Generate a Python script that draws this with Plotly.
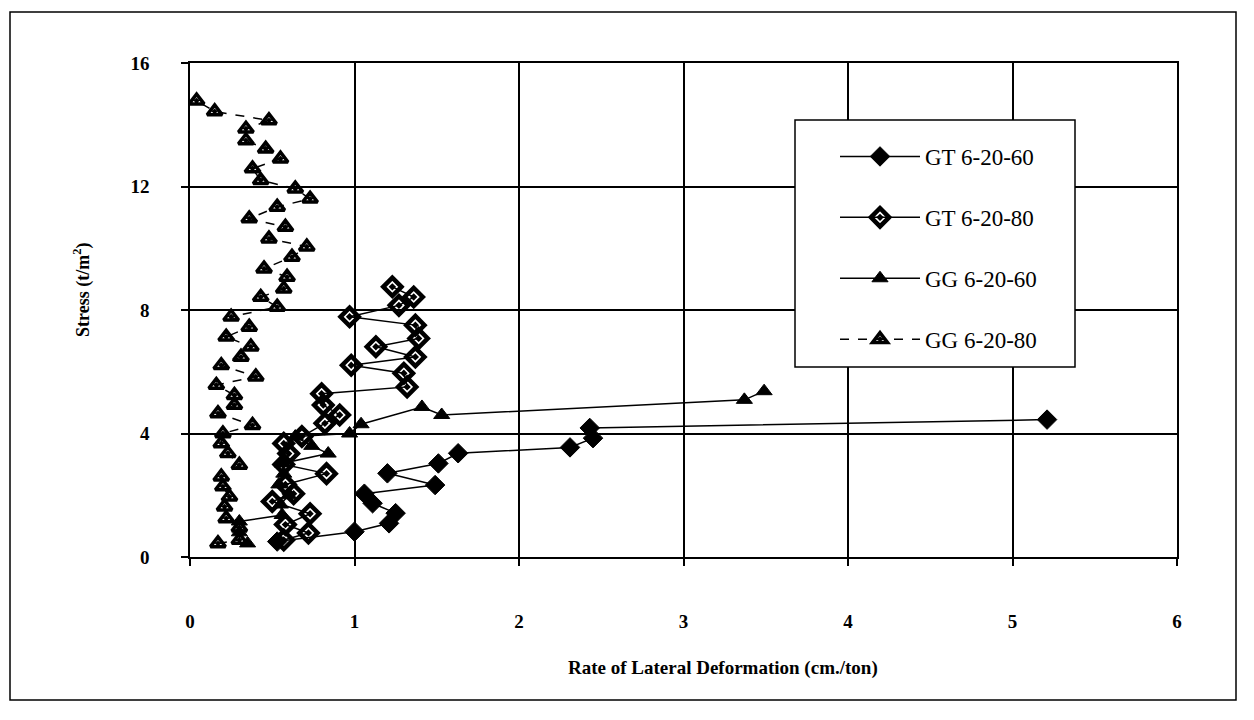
import plotly.graph_objects as go

# Stress vs. rate of lateral deformation for four wall configurations
gt60_rate = [0.53, 1.00, 1.21, 1.25, 1.11, 1.06, 1.49, 1.20, 1.51, 1.63, 2.31, 2.45, 2.43, 5.21]
gt60_stress = [0.50, 0.82, 1.09, 1.42, 1.74, 2.05, 2.33, 2.71, 3.03, 3.36, 3.55, 3.85, 4.18, 4.45]

gt80_rate = [0.57, 0.72, 0.58, 0.73, 0.50, 0.63, 0.58, 0.83, 0.57, 0.60, 0.57, 0.68, 0.82, 0.91,
             0.81, 0.80, 1.32, 1.30, 0.98, 1.37, 1.13, 1.39, 1.37, 0.97, 1.27, 1.36, 1.23]
gt80_stress = [0.55, 0.78, 1.05, 1.40, 1.80, 2.05, 2.35, 2.70, 3.00, 3.35, 3.68, 3.90, 4.33, 4.60,
               4.92, 5.29, 5.51, 5.95, 6.21, 6.48, 6.81, 7.08, 7.51, 7.78, 8.15, 8.42, 8.75]

gg60_rate = [0.35, 0.30, 0.30, 0.56, 0.55, 0.60, 0.54, 0.57, 0.56, 0.84, 0.74, 0.64, 0.97,
             1.04, 1.41, 1.53, 3.37, 3.49]
gg60_stress = [0.44, 0.80, 1.15, 1.36, 1.70, 2.00, 2.35, 2.70, 3.03, 3.35, 3.60, 3.90, 4.00,
               4.30, 4.86, 4.60, 5.09, 5.37]

gg80_rate = [0.17, 0.30, 0.30, 0.22, 0.21, 0.24, 0.20, 0.19, 0.30, 0.23, 0.19, 0.20, 0.38, 0.17,
             0.27, 0.27, 0.16, 0.40, 0.19, 0.31, 0.37, 0.22, 0.36, 0.25, 0.53, 0.43, 0.57, 0.59,
             0.45, 0.62, 0.71, 0.48, 0.58, 0.36, 0.53, 0.73, 0.64, 0.43, 0.38, 0.55, 0.46, 0.34,
             0.34, 0.48, 0.15, 0.04]
gg80_stress = [0.44, 0.55, 0.95, 1.25, 1.63, 1.95, 2.28, 2.60, 2.98, 3.36, 3.68, 4.00, 4.27, 4.65,
               4.92, 5.24, 5.57, 5.84, 6.21, 6.48, 6.81, 7.13, 7.45, 7.78, 8.10, 8.42, 8.69, 9.07,
               9.34, 9.72, 10.05, 10.31, 10.69, 10.96, 11.34, 11.60, 11.93, 12.20, 12.58, 12.90,
               13.22, 13.49, 13.87, 14.14, 14.43, 14.78]

x_ticks = [0, 1, 2, 3, 4, 5, 6]
y_ticks = [0, 4, 8, 12, 16]

SERIF = "Liberation Serif"

fig = go.Figure()

series = [
    ("GT 6-20-60", gt60_rate, gt60_stress,
     dict(symbol="diamond", size=15, color="black", line=dict(color="black", width=1)), "solid"),
    ("GT 6-20-80", gt80_rate, gt80_stress,
     dict(symbol="diamond-open-dot", size=14, color="black", line=dict(color="black", width=4.5)), "solid"),
    ("GG 6-20-60", gg60_rate, gg60_stress,
     dict(symbol="triangle-up", size=14, color="black", line=dict(color="black", width=1)), "solid"),
    ("GG 6-20-80", gg80_rate, gg80_stress,
     dict(symbol="triangle-up-open-dot", size=13, color="black", line=dict(color="black", width=3.5)), "dash"),
]

for i, (name, xs, ys, marker, dash) in enumerate(series):
    fig.add_trace(go.Scatter(
        x=xs, y=ys, mode="lines+markers", name=name, legendgroup=f"g{i}",
        line=dict(color="black", width=1.5, dash=dash),
        marker=marker,
    ))

# page frame and legend box, in paper coordinates of the plot area
L, R, T, B = 190, 1177, 63, 557
def px(xp):
    return (xp - L) / (R - L)
def py(yp):
    return (B - yp) / (B - T)

fig.add_shape(type="rect", xref="paper", yref="paper",
              x0=px(10), x1=px(1236), y0=py(700), y1=py(12),
              line=dict(color="black", width=1.5), layer="below")
fig.add_shape(type="rect", xref="paper", yref="paper",
              x0=px(795), x1=px(1075), y0=py(367), y1=py(120),
              line=dict(color="black", width=1.5), fillcolor="white", layer="above")

axis_common = dict(
    showgrid=True, gridcolor="black", gridwidth=1.5,
    showline=True, linecolor="black", linewidth=1.5, mirror=True,
    ticks="outside", ticklen=7, tickcolor="black", tickwidth=1.5,
    zeroline=False,
    tickfont=dict(family=SERIF, size=19, color="black"),
)

fig.update_layout(
    width=1254, height=720,
    margin=dict(l=L, r=1254 - R, t=T, b=720 - B),
    paper_bgcolor="white", plot_bgcolor="white",
    font=dict(family=SERIF, color="black"),
    xaxis=dict(range=[0, 6], tickvals=x_ticks,
               ticktext=[f"<b>{v}</b>" for v in x_ticks],
               ticklabelstandoff=39, **axis_common),
    yaxis=dict(range=[0, 16], tickvals=y_ticks,
               ticktext=[f"<b>{v}</b>" for v in y_ticks],
               ticklabelstandoff=28, **axis_common),
    legend=dict(x=px(835), y=py(135), xanchor="left", yanchor="top",
                bgcolor="rgba(0,0,0,0)", borderwidth=0,
                font=dict(family=SERIF, size=23, color="black"),
                itemwidth=80, tracegroupgap=28),
    showlegend=True,
    annotations=[
        dict(text="<b>Rate of Lateral Deformation (cm./ton)</b>",
             xref="paper", yref="paper", x=px(723), y=py(668),
             xanchor="center", yanchor="middle", showarrow=False,
             font=dict(family=SERIF, size=19, color="black")),
        dict(text="<b>Stress (t/m<sup>2</sup>)</b>",
             xref="paper", yref="paper", x=px(82), y=py(290),
             xanchor="center", yanchor="middle", showarrow=False, textangle=-90,
             font=dict(family=SERIF, size=18, color="black")),
    ],
)

fig.write_html("out.html")
